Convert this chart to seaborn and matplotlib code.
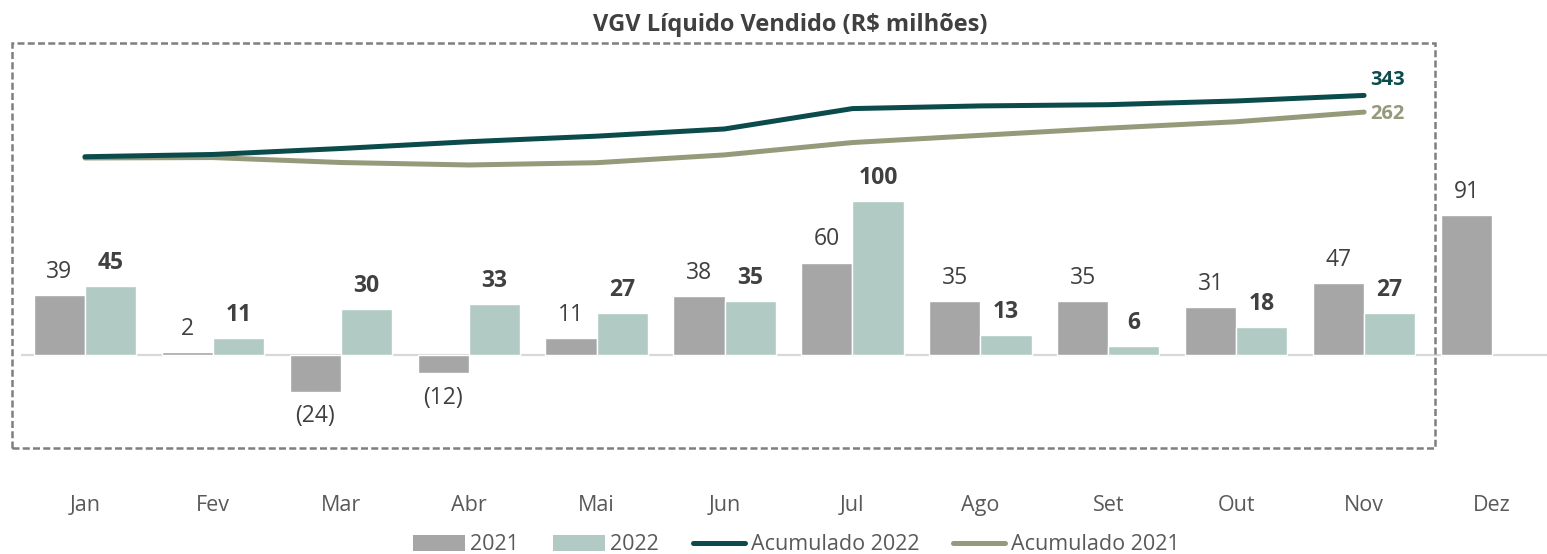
import numpy as np
import pandas as pd
import matplotlib
matplotlib.use("Agg")
import matplotlib.pyplot as plt
from matplotlib.patches import Rectangle, Patch
from matplotlib.lines import Line2D
import seaborn as sns

months = ["Jan", "Fev", "Mar", "Abr", "Mai", "Jun", "Jul", "Ago", "Set", "Out", "Nov", "Dez"]
vgv_2021 = [39, 2, -24, -12, 11, 38, 60, 35, 35, 31, 47, 91]
vgv_2022 = [45, 11, 30, 33, 27, 35, 100, 13, 6, 18, 27, np.nan]
acc_2022 = [45, 56, 85, 118, 145, 180, 279, 292, 298, 316, 343]
acc_2021 = [39, 41, 17, 5, 16, 54, 114, 149, 184, 215, 262]
title = "VGV Líquido Vendido (R$ milhões)"

C2021 = "#a6a6a6"
C2022 = "#b1cbc4"
CACC22 = "#0b4b4c"
CACC21 = "#959a7b"
TXT = "#404040"
TICK = "#595959"

sns.set_style("white")
plt.rcParams["font.family"] = ["Open Sans", "DejaVu Sans"]

W, H = 1547, 554
fig = plt.figure(figsize=(W / 100, H / 100), dpi=100)
ax_left, ax_right, ax_top, ax_bot = 21, 1547, 40, 480
ax = fig.add_axes([ax_left / W, 1 - ax_bot / H, (ax_right - ax_left) / W, (ax_bot - ax_top) / H])

df = pd.DataFrame({
    "month": months * 2,
    "year": ["2021"] * 12 + ["2022"] * 12,
    "value": list(vgv_2021) + list(vgv_2022),
})
sns.barplot(data=df, x="month", y="value", hue="year", order=months,
            hue_order=["2021", "2022"], palette=[C2021, C2022],
            width=0.8, saturation=1, ax=ax, legend=False, errorbar=None)

# zero line
ax.axhline(0, color="#d9d9d9", lw=1.6, zorder=0.5)

# scales
px_per_unit = 1.54
zero_px = 355
ax.set_ylim(-(ax_bot - zero_px) / px_per_unit, (zero_px - ax_top) / px_per_unit)
ax.set_xlim(-0.5, 11.43)

LBL = 16.5
# bar labels
for i, m in enumerate(months):
    v = vgv_2021[i]
    xb = i - 0.2
    if v >= 0:
        ax.annotate(f"{v:d}", (xb, v), xytext=(0, 8), textcoords="offset points",
                    ha="center", va="bottom", fontsize=LBL, color=TXT)
    else:
        ax.annotate(f"({-v:d})", (xb, v), xytext=(0, -9), textcoords="offset points",
                    ha="center", va="top", fontsize=LBL, color=TXT)
    v2 = vgv_2022[i]
    if not np.isnan(v2):
        ax.annotate(f"{int(v2):d}", (i + 0.2, v2), xytext=(0, 8), textcoords="offset points",
                    ha="center", va="bottom", fontsize=LBL, color=TXT, fontweight="bold")

# axis styling
for s in ax.spines.values():
    s.set_visible(False)
ax.set_yticks([])
ax.set_xlabel("")
ax.set_ylabel("")
ax.tick_params(axis="x", length=0, pad=11, labelsize=15.5, labelcolor=TICK)

# secondary axis for accumulated lines
ax2 = ax.twinx()
sec_zero_px = 166
sec_per_px = 4.86
ax2.set_ylim(-(ax_bot - sec_zero_px) * sec_per_px, (sec_zero_px - ax_top) * sec_per_px)
xi = np.arange(len(acc_2022))
sns.lineplot(x=xi, y=acc_2021, ax=ax2, color=CACC21, lw=3.6, solid_capstyle="round")
sns.lineplot(x=xi, y=acc_2022, ax=ax2, color=CACC22, lw=3.6, solid_capstyle="round")
ax2.set_xlim(-0.5, 11.43)
for s in ax2.spines.values():
    s.set_visible(False)
ax2.set_yticks([])
ax2.set_ylabel("")

ax2.annotate(f"{acc_2022[-1]}", (xi[-1], acc_2022[-1]), xytext=(17, 11), textcoords="offset points",
             ha="center", va="center", fontsize=14.5, fontweight="bold", color=CACC22)
ax2.annotate(f"{acc_2021[-1]}", (xi[-1], acc_2021[-1]), xytext=(17, -1.5), textcoords="offset points",
             ha="center", va="center", fontsize=14.5, fontweight="bold", color=CACC21)

# title
fig.text(790 / W, 1 - 25 / H, title, ha="center", va="center", fontsize=17,
         fontweight="bold", color=TXT)

# dashed frame
rect = Rectangle((12 / W, 1 - 448 / H), (1435 - 12) / W, (448 - 43) / H,
                 transform=fig.transFigure, fill=False, edgecolor="#7f7f7f",
                 lw=1.8, linestyle=(0, (2.8, 1.3)))
fig.add_artist(rect)

# legend
handles = [Patch(facecolor=C2021, edgecolor="none"),
           Patch(facecolor=C2022, edgecolor="none"),
           Line2D([], [], color=CACC22, lw=3.6, solid_capstyle="round"),
           Line2D([], [], color=CACC21, lw=3.6, solid_capstyle="round")]
labels = ["2021", "2022", "Acumulado 2022", "Acumulado 2021"]
fig.legend(handles, labels, loc="center", bbox_to_anchor=(796 / W, 1 - 545 / H),
           bbox_transform=fig.transFigure, ncol=4, frameon=False, handlelength=2.4,
           handletextpad=0.25, columnspacing=1.6, fontsize=15.5, labelcolor=TICK,
           borderpad=0, borderaxespad=0)

fig.savefig("out.png", dpi=100)
